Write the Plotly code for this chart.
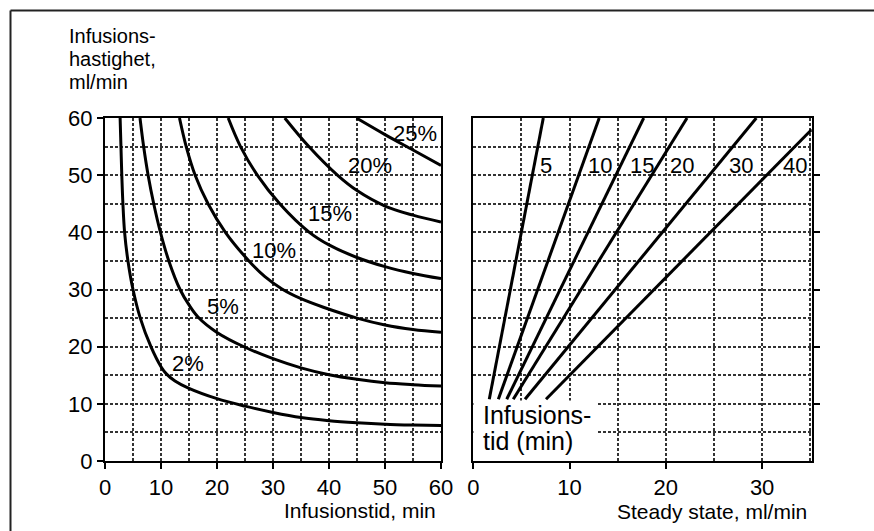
import plotly.graph_objects as go

# ---------------- data ----------------
# Left panel: infusion rate (ml/min) vs infusion time (min) for each percentage
pct_labels = ["2%", "5%", "10%", "15%", "20%", "25%"]

c2_x = [2.7, 2.85, 3.0, 3.2, 3.5, 4.1, 5.0, 6.3, 8.2, 10, 11, 12.5, 15, 20, 25, 30, 35, 40, 45, 50, 55, 60]
c2_y = [60, 55, 50, 45, 40, 35, 30, 25, 20, 16.5, 15.2, 14.0, 12.7, 10.9, 9.6, 8.5, 7.6, 7.05, 6.7, 6.45, 6.3, 6.2]

c5_x = [6.25, 6.9, 7.7, 8.7, 9.9, 11.4, 13.4, 15.0, 16.6, 20, 25, 30, 35, 40, 45, 50, 55, 60]
c5_y = [60, 55, 50, 45, 40, 35, 30, 27.3, 25.2, 22.5, 19.9, 17.9, 16.3, 15.1, 14.3, 13.7, 13.35, 13.1]

c10_x = [13.3, 14.5, 16.1, 18.4, 21.5, 25.7, 28.5, 31.6, 35, 39, 45, 50, 55, 60]
c10_y = [60, 55, 50, 45, 40, 35, 32.3, 30.1, 28.4, 26.9, 25.0, 23.8, 23.0, 22.5]

c15_x = [22.0, 24.2, 27.2, 31.2, 36.5, 40, 45, 50, 55, 60]
c15_y = [60, 55, 50, 45, 40, 37.8, 35.6, 34.0, 32.8, 31.9]

c20_x = [32.1, 36.4, 41.5, 45, 50, 55, 60]
c20_y = [60, 55, 50, 47.3, 44.6, 43.0, 41.8]

c25_x = [44.9, 50, 55, 60]
c25_y = [60, 57.1, 54.4, 51.7]

pct_label_x = [14.9, 21.1, 30.1, 40.2, 47.3, 55.4]
pct_label_y = [17.0, 27.1, 36.9, 43.3, 51.7, 57.3]

# Right panel: infusion rate vs steady state for each infusion time (min)
time_labels = ["5", "10", "15", "20", "30", "40"]
line_x_start = [1.66, 2.6, 3.47, 4.15, 5.37, 7.55]
line_y_start = [10.8, 10.8, 10.8, 10.8, 10.8, 10.8]
line_x_end = [7.27, 13.08, 17.7, 22.2, 29.4, 35.15]
line_y_end = [60, 60, 60, 60, 60, 58.0]
time_label_x = [7.6, 13.2, 17.5, 21.7, 27.8, 33.4]
time_label_y = [51.7, 51.7, 51.7, 51.7, 51.7, 51.7]

left_xticks = [0, 10, 20, 30, 40, 50, 60]
left_yticks = [0, 10, 20, 30, 40, 50, 60]
right_xticks = [0, 10, 20, 30]

# ---------------- figure ----------------
W, H = 874, 531
FONT = "Liberation Sans, Arial, Helvetica, sans-serif"

fig = go.Figure()

curves = [(c2_x, c2_y), (c5_x, c5_y), (c10_x, c10_y), (c15_x, c15_y), (c20_x, c20_y), (c25_x, c25_y)]
for (xs, ys), name in zip(curves, pct_labels):
    fig.add_trace(go.Scatter(
        x=xs, y=ys, mode="lines", name=name,
        line=dict(color="black", width=3, shape="spline", smoothing=1.0),
        xaxis="x", yaxis="y", showlegend=False, hoverinfo="skip"))

for i, name in enumerate(time_labels):
    fig.add_trace(go.Scatter(
        x=[line_x_start[i], line_x_end[i]], y=[line_y_start[i], line_y_end[i]],
        mode="lines", name=name, line=dict(color="black", width=3),
        xaxis="x2", yaxis="y2", showlegend=False, hoverinfo="skip"))

GW = 2
GC = "#333"
grid = dict(showgrid=True, gridcolor=GC, gridwidth=GW, griddash="3px,2px")
minor = dict(dtick=5, showgrid=True, gridcolor=GC, gridwidth=GW, griddash="3px,2px", ticks="")
axis_common = dict(showline=True, linewidth=2, linecolor="black", mirror=True,
                   ticks="outside", ticklen=6, tickwidth=2, tickcolor="black",
                   zeroline=False, automargin=False,
                   tickfont=dict(family=FONT, size=22, color="black"), **grid)

ydom = [70 / H, 413 / H]
fig.update_layout(
    width=W, height=H, template="none",
    margin=dict(l=0, r=0, t=0, b=0, pad=0),
    paper_bgcolor="white", plot_bgcolor="white",
    font=dict(family=FONT, color="black"),
    showlegend=False,
    xaxis=dict(domain=[105 / W, 441 / W], range=[0, 60], tickvals=left_xticks,
               anchor="y", minor=minor, **axis_common),
    yaxis=dict(domain=ydom, range=[0, 60], tickvals=left_yticks,
               anchor="x", minor=minor, **axis_common),
    xaxis2=dict(domain=[473.3 / W, 811.7 / W], range=[0, 35.15], tickvals=right_xticks,
                anchor="y2", minor=minor, **axis_common),
    yaxis2=dict(domain=ydom, range=[0, 60], tickvals=[10, 20, 30, 40, 50],
                anchor="x2", side="right", showticklabels=False, minor=minor, **axis_common),
)

# white box behind "Infusionstid (min)"
fig.add_shape(type="rect", xref="x2", yref="y2", x0=0, x1=12.9, y0=0, y1=10.6,
              fillcolor="white", line=dict(width=0), layer="between")

# frame lines around figure (top and left)
fig.add_shape(type="line", xref="paper", yref="paper", x0=10.5 / W, x1=1, y0=1 - 10.5 / H, y1=1 - 10.5 / H,
              line=dict(color="#222", width=2))
fig.add_shape(type="line", xref="paper", yref="paper", x0=10.5 / W, x1=10.5 / W, y0=0, y1=1 - 10.5 / H,
              line=dict(color="#222", width=2))

ann = []
# y-axis title (three lines)
for txt, cy in zip(["Infusions-", "hastighet,", "ml/min"], [36.3, 59.0, 82.0]):
    ann.append(dict(text=txt, xref="paper", yref="paper", x=67 / W, y=1 - cy / H,
                    xanchor="left", yanchor="middle", showarrow=False,
                    font=dict(family=FONT, size=20, color="black")))
# x-axis titles
ann.append(dict(text="Infusionstid, min", xref="paper", yref="paper", x=438 / W, y=1 - 510.7 / H,
                xanchor="right", yanchor="middle", showarrow=False,
                font=dict(family=FONT, size=21, color="black")))
ann.append(dict(text="Steady state, ml/min", xref="paper", yref="paper", x=809 / W, y=1 - 511 / H,
                xanchor="right", yanchor="middle", showarrow=False,
                font=dict(family=FONT, size=21, color="black")))
# percentage labels
for t, x, y in zip(pct_labels, pct_label_x, pct_label_y):
    ann.append(dict(text=t, xref="x", yref="y", x=x, y=y, xanchor="center", yanchor="middle",
                    showarrow=False, font=dict(family=FONT, size=22, color="black")))
# time labels
for t, x, y in zip(time_labels, time_label_x, time_label_y):
    ann.append(dict(text=t, xref="x2", yref="y2", x=x, y=y, xanchor="center", yanchor="middle",
                    showarrow=False, font=dict(family=FONT, size=22, color="black")))
# inner legend text
for txt, cy in zip(["Infusions-", "tid (min)"], [414.6, 441.3]):
    ann.append(dict(text=txt, xref="paper", yref="paper", x=480.5 / W, y=1 - cy / H,
                    xanchor="left", yanchor="middle", showarrow=False,
                    font=dict(family=FONT, size=25, color="black")))

fig.update_layout(annotations=ann)
fig.write_html("out.html", config={"displayModeBar": False, "staticPlot": True},
               post_script="document.body.style.margin='0px';document.body.style.overflow='hidden';")
